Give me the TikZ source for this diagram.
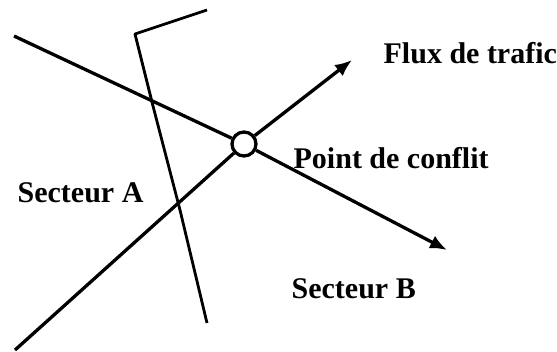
\documentclass[tikz,border=0pt]{standalone}
\usepackage{fontspec}
\setmainfont{Liberation Serif}
\usetikzlibrary{arrows.meta}
\begin{document}
\begin{tikzpicture}[x=1pt,y=-1pt,line width=3.3pt,line join=round,
  every node/.style={font=\bfseries\fontsize{30}{36}\selectfont,inner sep=0pt},
  conflit/.style={circle,draw,fill=white,minimum size=24pt,line width=3.3pt},
  flux/.style={-{Latex[length=17pt,width=14pt]}}]
\useasboundingbox (0,0) rectangle (557,351);
\coordinate (A) at (14,36);
\coordinate (B) at (447,250);
\coordinate (C) at (15,350);
\coordinate (D) at (352,60);
\coordinate (R1) at (207,10);
\coordinate (R2) at (135,34);
\coordinate (R3) at (153,106);
\coordinate (R4) at (180,210);
\coordinate (R5) at (207,323);
\draw[line width=2.8pt] (R1) -- (R2) -- (R3) -- (R4) -- (R5);
\node[conflit] (P) at (244,144) {};
\draw (A) -- (P);
\draw[flux] (P) -- (B);
\draw (C) -- (P);
\draw[flux] (P) -- (D);
\node[anchor=base west] (fl) at (382,63) {Flux de trafic};
\node[anchor=base west] (pc) at (292,168) {Point de conflit};
\node[anchor=base west] (sa) at (16,202) {Secteur A};
\node[anchor=base west] (sb) at (290,298) {Secteur B};
\end{tikzpicture}
\end{document}
